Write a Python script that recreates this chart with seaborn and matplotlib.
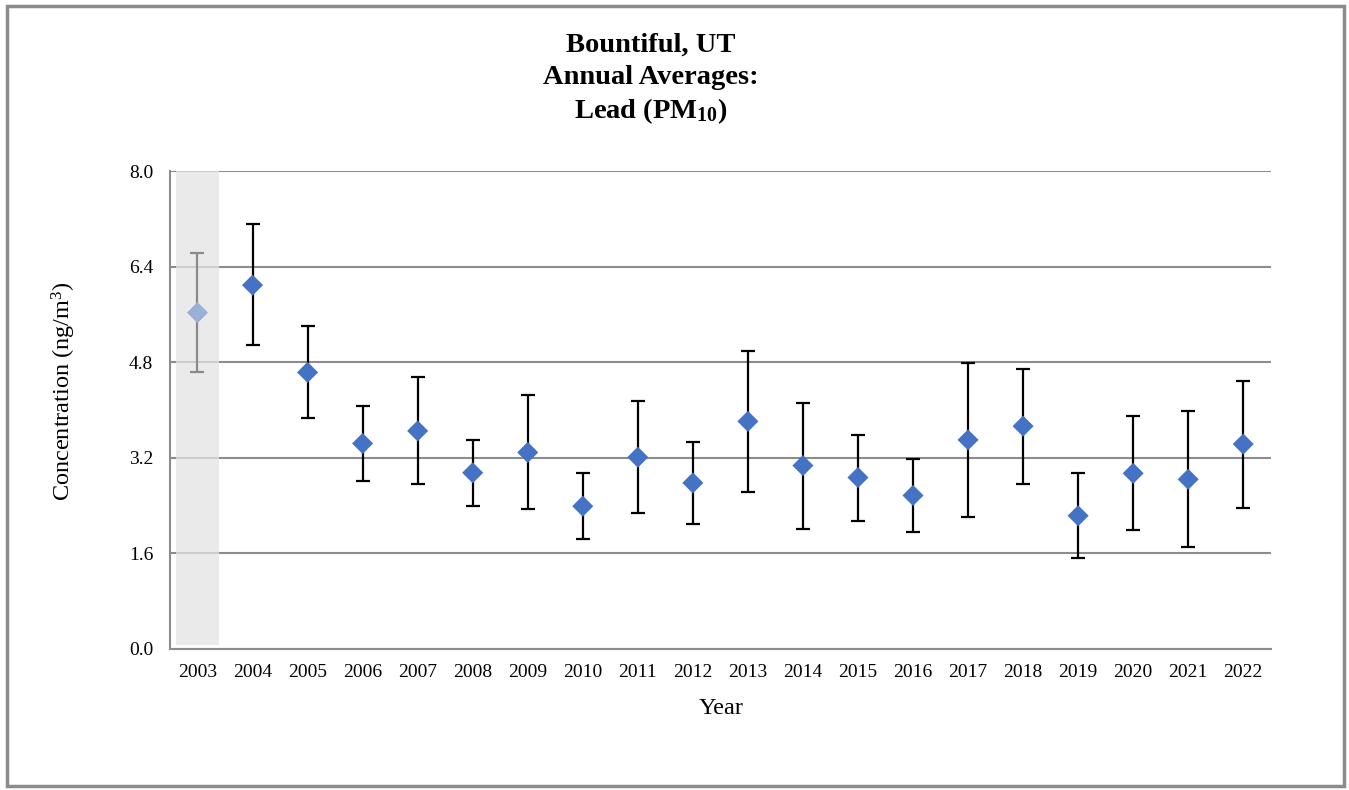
import matplotlib
matplotlib.use("Agg")
import matplotlib.pyplot as plt
import matplotlib.patches as mpatches
import numpy as np
import pandas as pd
import seaborn as sns

years = [2003, 2004, 2005, 2006, 2007, 2008, 2009, 2010, 2011, 2012,
         2013, 2014, 2015, 2016, 2017, 2018, 2019, 2020, 2021, 2022]
means = [5.63, 6.09, 4.63, 3.44, 3.65, 2.95, 3.29, 2.39, 3.21, 2.78,
         3.81, 3.07, 2.87, 2.57, 3.50, 3.73, 2.23, 2.94, 2.84, 3.43]
lowers = [4.64, 5.08, 3.87, 2.81, 2.76, 2.39, 2.34, 1.84, 2.28, 2.09,
          2.63, 2.01, 2.14, 1.95, 2.21, 2.76, 1.52, 1.99, 1.70, 2.36]
uppers = [6.63, 7.11, 5.41, 4.06, 4.55, 3.50, 4.25, 2.94, 4.15, 3.46,
          4.98, 4.12, 3.59, 3.18, 4.78, 4.69, 2.94, 3.90, 3.98, 4.49]
yticks = [0.0, 1.6, 3.2, 4.8, 6.4, 8.0]
highlight_year = 2003

sns.set_theme(style="white")
plt.rcParams['font.family'] = ['Liberation Serif', 'DejaVu Serif']
plt.rcParams['mathtext.fontset'] = 'custom'
plt.rcParams['mathtext.rm'] = 'Liberation Serif'
plt.rcParams['mathtext.bf'] = 'Liberation Serif:bold'
plt.rcParams['mathtext.it'] = 'Liberation Serif:italic'
plt.rcParams['text.color'] = 'black'
plt.rcParams['axes.labelcolor'] = 'black'
plt.rcParams['xtick.labelcolor'] = 'black'
plt.rcParams['ytick.labelcolor'] = 'black'

df = pd.DataFrame({"year": years, "mean": means, "lo": lowers, "hi": uppers})
df["pos"] = np.arange(len(df))
df["kind"] = np.where(df["year"] == highlight_year, "faded", "normal")

fig = plt.figure(figsize=(13.49, 7.90), dpi=100)
ax = fig.add_axes([0.126, 0.1785, 0.816, 0.605])

# highlight band
hpos = df.loc[df["year"] == highlight_year, "pos"].iloc[0]
ax.axvspan(hpos - 0.39, hpos + 0.39, ymin=0.008, ymax=1.0, facecolor='#e4e4e4',
           edgecolor='none', alpha=0.75, zorder=1.5)

# error bars
for kind, col in [("normal", "black"), ("faded", "#8a8a8a")]:
    sub = df[df["kind"] == kind]
    ax.errorbar(sub["pos"], sub["mean"],
                yerr=[sub["mean"] - sub["lo"], sub["hi"] - sub["mean"]],
                fmt='none', ecolor=col, elinewidth=1.6, capsize=5, capthick=1.6,
                zorder=3)

sns.scatterplot(data=df, x="pos", y="mean", hue="kind",
                palette={"normal": "#4472C4", "faded": "#9AB0D9"},
                marker='D', s=115, edgecolor='none', legend=False, ax=ax, zorder=4)

ax.set_xlim(-0.5, len(df) - 0.5)
ax.set_ylim(0, 8)
ax.set_yticks(yticks)
ax.set_yticklabels([f"{v:.1f}" for v in yticks], fontsize=14)
ax.set_xticks(df["pos"])
ax.set_xticklabels([str(y) for y in years], fontsize=14)
ax.set_xticks(np.arange(-0.5, len(df) + 0.5, 1.0), minor=True)
ax.tick_params(axis='x', which='major', length=0, pad=11)
ax.tick_params(axis='x', which='minor', length=6, width=1.5, color='#8c8c8c', direction='out')
ax.tick_params(axis='y', which='major', length=7, width=1.5, color='#8c8c8c', direction='out', pad=5)

ax.yaxis.grid(True, color='#8c8c8c', linewidth=1.5, zorder=1)
ax.xaxis.grid(False)
ax.set_axisbelow(True)
for s in ['top', 'right']:
    ax.spines[s].set_visible(False)
for s in ['left', 'bottom']:
    ax.spines[s].set_color('#8c8c8c')
    ax.spines[s].set_linewidth(1.5)

ax.set_xlabel("Year", fontsize=17.5)
ax.set_ylabel("Concentration (ng/m$^{3}$)", fontsize=17.5)
ax.xaxis.set_label_coords(0.501, -0.124)
ax.xaxis.label.set_va('center')
ax.yaxis.set_label_coords(-0.096, 0.54)
ax.yaxis.label.set_va('center')

fig.text(0.4825, 1 - 45 / 790, "Bountiful, UT", ha='center', va='center', fontsize=20.5, fontweight='bold')
fig.text(0.4825, 1 - 78 / 790, "Annual Averages:", ha='center', va='center', fontsize=20.5, fontweight='bold')
fig.text(0.4825, 1 - 111 / 790, r"Lead (PM$_{\mathbf{10}}$)", ha='center', va='center', fontsize=20.5, fontweight='bold')

border = mpatches.Rectangle((0.005, 0.005), 0.991, 0.988, transform=fig.transFigure,
                            fill=False, edgecolor='#8c8c8c', linewidth=2.5)
fig.patches.append(border)

fig.savefig("out.png", dpi=100)
